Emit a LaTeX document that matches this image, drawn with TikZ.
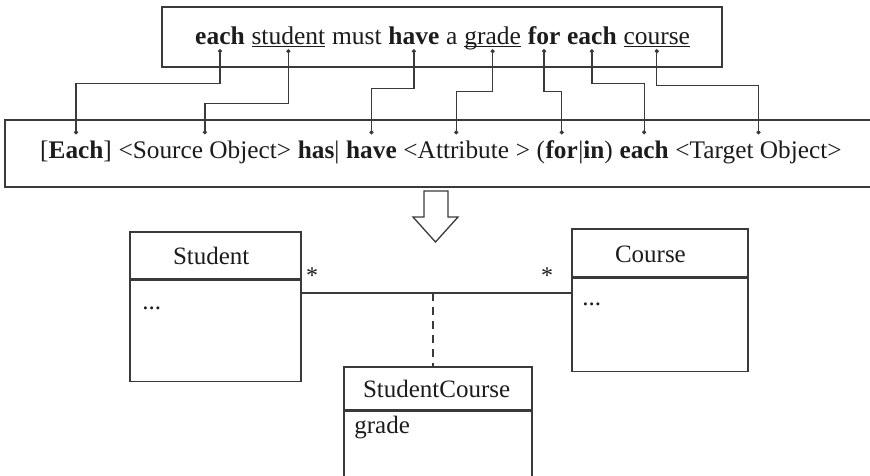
\documentclass[tikz,border=0pt]{standalone}
\usepackage{fontspec}
\setmainfont{Liberation Serif}
\usetikzlibrary{arrows.meta,positioning}
\definecolor{linegray}{HTML}{3A3A3A}
\definecolor{inkgray}{HTML}{1C1C1C}
\newcommand\ulword[1]{\setbox0\hbox{#1}\rlap{\rule[-2.8pt]{\wd0}{1pt}}\box0}

\begin{document}
\begin{tikzpicture}[
  x=1pt, y=-1pt,
  frame/.style={draw=linegray, line width=1.6pt},
  word/.style={inner sep=0pt, text=inkgray, font=\fontsize{25.5}{30}\selectfont,
               text height=18pt, text depth=5pt},
  slot/.style={inner sep=0pt, text=inkgray, font=\fontsize{25.3}{30}\selectfont,
               text height=24pt, text depth=6pt},
  link/.style={draw=linegray, line width=1.3pt, {Circle[length=4pt]}-{Circle[length=4pt]}},
  clshead/.style={frame, inner ysep=0pt, align=left, text=inkgray,
                  font=\fontsize{25}{30}\selectfont, text height=19pt, text depth=1pt},
  clsbody/.style={frame, inner sep=0pt},
  attr/.style={inner sep=0pt, anchor=base west, text=inkgray, font=\fontsize{25}{30}\selectfont},
  mult/.style={inner sep=0pt, anchor=base, text=inkgray, font=\fontsize{24}{30}\selectfont}
]
\useasboundingbox (0,0) rectangle (870,475);

\node[frame, minimum width=560pt, minimum height=60pt] (sentence) at (442,37) {};
\node[word, anchor=base west] (each) at (195,44) {\textbf{each}};
\node[word, base right=6.4pt of each] (student) {\ulword{student}};
\node[word, base right=6.4pt of student] (must) {must};
\node[word, base right=6.4pt of must] (have) {\textbf{have}};
\node[word, base right=6.4pt of have] (a) {a};
\node[word, base right=6.4pt of a] (grade) {\ulword{grade}};
\node[word, base right=6.4pt of grade] (for) {\textbf{for}};
\node[word, base right=6.4pt of for] (eachtwo) {\textbf{each}};
\node[word, base right=6.4pt of eachtwo] (course) {\ulword{course}};

\node[frame, minimum width=866pt, minimum height=67pt] (pattern) at (438,153.5) {};
\node[slot, anchor=base west] (eachslot) at (40,158.5) {[\textbf{Each}]};
\node[slot, base right=6.3pt of eachslot] (source) {<Source Object>};
\node[slot, base right=6.3pt of source] (has) {\textbf{has}|};
\node[slot, base right=6.3pt of has] (haveslot) {\textbf{have}};
\node[slot, base right=6.3pt of haveslot] (attribute) {<Attribute};
\node[slot, base right=6.3pt of attribute] (close) {>};
\node[slot, base right=6.3pt of close] (paren) {(};
\node[slot, base right=0pt of paren] (forslot) {\textbf{for}};
\node[slot, base right=0pt of forslot] (inslot) {|\textbf{in})};
\node[slot, base right=6.3pt of inslot] (eachslottwo) {\textbf{each}};
\node[slot, base right=6.3pt of eachslottwo] (target) {<Target Object>};

\draw[link] (each.south) -- ++(0,34) -| (eachslot.north);
\draw[link] (student.south) -- ++(0,54) -| (source.north);
\draw[link] (have.south) -- ++(0,39) -| (haveslot.north);
\draw[link] (grade.south) -- ++(0,42) -| (attribute.north);
\draw[link] (for.south) -- ++(0,42) -| (forslot.north);
\draw[link] (eachtwo.south) -- ++(0,34) -| (eachslottwo.north);
\draw[link] (course.south) -- ++(0,36) -| (target.north);

\draw[frame, line width=1.3pt, fill=white] (424,191) -- (448,191) -- (448,217) -- (458,217)
  -- (435.5,242) -- (413,217) -- (424,217) -- cycle;

\node[clshead, minimum height=47pt, inner xsep=43pt, text width=85pt] (studenthead) at (215.5,255.5) {Student};
\node[clsbody, minimum width=171pt, minimum height=101pt, below=0pt of studenthead] (studentbody) {};
\node[attr] (studentattr) at ([xshift=13pt, yshift=-30pt]studentbody.north west) {...};

\node[clshead, minimum height=48pt, inner xsep=43pt, text width=90pt] (coursehead) at (660,253) {Course};
\node[clsbody, minimum width=176pt, minimum height=93pt, below=0pt of coursehead] (coursebody) {};
\node[attr] (courseattr) at ([xshift=11pt, yshift=-28pt]coursebody.north west) {...};

\node[clshead, minimum height=43pt, inner xsep=19pt, text width=150pt] (linkhead) at (438,388.5) {StudentCourse};
\node[clsbody, minimum width=188pt, minimum height=90pt, below=0pt of linkhead] (linkbody) {};
\node[attr] (linkattr) at ([xshift=11pt, yshift=-23pt]linkbody.north west) {grade};

\coordinate (assoc) at (433,293);
\draw[frame, line width=1.3pt] (assoc -| studentbody.east) -- (assoc -| coursebody.west);
\draw[frame, line width=1.3pt, dash pattern=on 8pt off 6pt] (assoc) -- (assoc |- linkhead.north);
\node[mult] (studentmult) at (312,283) {*};
\node[mult] (coursemult) at (547,283) {*};
\end{tikzpicture}
\end{document}
